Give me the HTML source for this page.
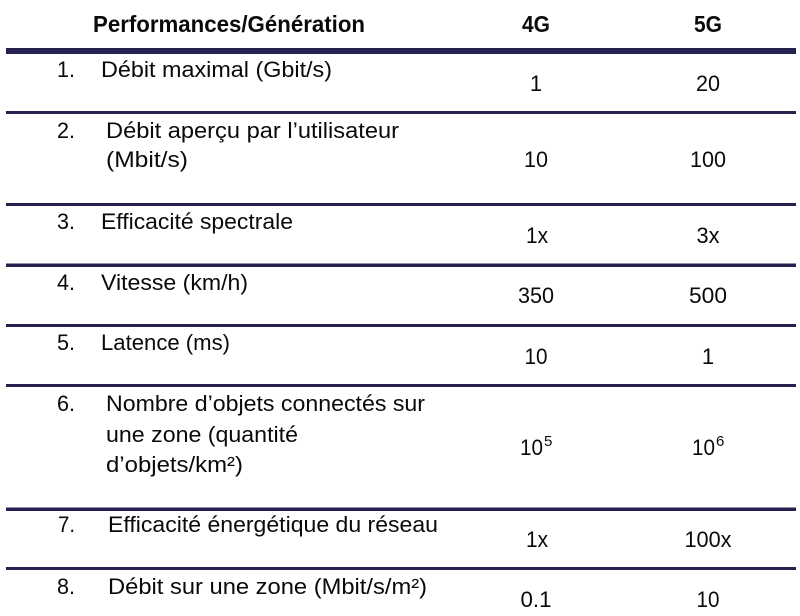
<!DOCTYPE html>
<html>
<head>
<meta charset="utf-8">
<style>
  html, body { margin: 0; padding: 0; background: #ffffff; }
  body { width: 800px; height: 616px; overflow: hidden; }
  svg { display: block; }
  text { font-family: "Liberation Sans", Arial, sans-serif; fill: #0a0a0a; }
  .h { font-weight: bold; font-size: 23px; }
  .t { font-size: 22px; }
  .s { font-size: 15px; }
</style>
</head>
<body>
<svg width="800" height="616" viewBox="0 0 800 616" xmlns="http://www.w3.org/2000/svg">
  <!-- rules -->
  <g fill="#25224f">
    <rect x="6" y="48" width="790" height="6"/>
    <rect x="6" y="111" width="790" height="3"/>
    <rect x="6" y="203" width="790" height="3"/>
    <rect x="6" y="263.5" width="790" height="3.5"/>
    <rect x="6" y="324" width="790" height="3"/>
    <rect x="6" y="384" width="790" height="3"/>
    <rect x="6" y="507.5" width="790" height="3.5"/>
    <rect x="6" y="567" width="790" height="3"/>
  </g>

  <!-- header -->
  <text class="h" x="93" y="32" textLength="272" lengthAdjust="spacingAndGlyphs">Performances/Génération</text>
  <text class="h" x="536" y="32" text-anchor="middle" textLength="28" lengthAdjust="spacingAndGlyphs">4G</text>
  <text class="h" x="708" y="32" text-anchor="middle" textLength="28" lengthAdjust="spacingAndGlyphs">5G</text>

  <!-- row 1 -->
  <text class="t" x="57" y="77" textLength="18" lengthAdjust="spacingAndGlyphs">1.</text>
  <text class="t" x="101" y="77" textLength="231" lengthAdjust="spacingAndGlyphs">Débit maximal (Gbit/s)</text>
  <text class="t" x="536" y="91" text-anchor="middle">1</text>
  <text class="t" x="708" y="91" text-anchor="middle" textLength="24" lengthAdjust="spacingAndGlyphs">20</text>

  <!-- row 2 -->
  <text class="t" x="57" y="138" textLength="18" lengthAdjust="spacingAndGlyphs">2.</text>
  <text class="t" x="106" y="138" textLength="293" lengthAdjust="spacingAndGlyphs">Débit aperçu par l’utilisateur</text>
  <text class="t" x="106" y="167" textLength="82" lengthAdjust="spacingAndGlyphs">(Mbit/s)</text>
  <text class="t" x="536" y="167" text-anchor="middle" textLength="24" lengthAdjust="spacingAndGlyphs">10</text>
  <text class="t" x="708" y="167" text-anchor="middle" textLength="36" lengthAdjust="spacingAndGlyphs">100</text>

  <!-- row 3 -->
  <text class="t" x="57" y="229" textLength="18" lengthAdjust="spacingAndGlyphs">3.</text>
  <text class="t" x="101" y="229" textLength="192" lengthAdjust="spacingAndGlyphs">Efficacité spectrale</text>
  <text class="t" x="537" y="243" text-anchor="middle" textLength="22" lengthAdjust="spacingAndGlyphs">1x</text>
  <text class="t" x="708" y="243" text-anchor="middle" textLength="23" lengthAdjust="spacingAndGlyphs">3x</text>

  <!-- row 4 -->
  <text class="t" x="57" y="290" textLength="18" lengthAdjust="spacingAndGlyphs">4.</text>
  <text class="t" x="101" y="290" textLength="147" lengthAdjust="spacingAndGlyphs">Vitesse (km/h)</text>
  <text class="t" x="536" y="303" text-anchor="middle" textLength="36" lengthAdjust="spacingAndGlyphs">350</text>
  <text class="t" x="708" y="303" text-anchor="middle" textLength="38" lengthAdjust="spacingAndGlyphs">500</text>

  <!-- row 5 -->
  <text class="t" x="57" y="350" textLength="18" lengthAdjust="spacingAndGlyphs">5.</text>
  <text class="t" x="101" y="350" textLength="129" lengthAdjust="spacingAndGlyphs">Latence (ms)</text>
  <text class="t" x="536" y="364" text-anchor="middle" textLength="23" lengthAdjust="spacingAndGlyphs">10</text>
  <text class="t" x="708" y="364" text-anchor="middle">1</text>

  <!-- row 6 -->
  <text class="t" x="57" y="411" textLength="18" lengthAdjust="spacingAndGlyphs">6.</text>
  <text class="t" x="106" y="411" textLength="319" lengthAdjust="spacingAndGlyphs">Nombre d’objets connectés sur</text>
  <text class="t" x="106" y="442" textLength="192" lengthAdjust="spacingAndGlyphs">une zone (quantité</text>
  <text class="t" x="106" y="472" textLength="137" lengthAdjust="spacingAndGlyphs">d’objets/km²)</text>
  <text class="t" x="520" y="455" textLength="23" lengthAdjust="spacingAndGlyphs">10</text>
  <text class="s" x="544" y="446">5</text>
  <text class="t" x="692" y="455" textLength="23" lengthAdjust="spacingAndGlyphs">10</text>
  <text class="s" x="716" y="446">6</text>

  <!-- row 7 -->
  <text class="t" x="58" y="532" textLength="17" lengthAdjust="spacingAndGlyphs">7.</text>
  <text class="t" x="108" y="532" textLength="330" lengthAdjust="spacingAndGlyphs">Efficacité énergétique du réseau</text>
  <text class="t" x="537" y="547" text-anchor="middle" textLength="22" lengthAdjust="spacingAndGlyphs">1x</text>
  <text class="t" x="708" y="547" text-anchor="middle" textLength="47" lengthAdjust="spacingAndGlyphs">100x</text>

  <!-- row 8 -->
  <text class="t" x="57" y="594" textLength="18" lengthAdjust="spacingAndGlyphs">8.</text>
  <text class="t" x="108" y="594" textLength="319" lengthAdjust="spacingAndGlyphs">Débit sur une zone (Mbit/s/m²)</text>
  <text class="t" x="536" y="607" text-anchor="middle" textLength="31" lengthAdjust="spacingAndGlyphs">0.1</text>
  <text class="t" x="708" y="607" text-anchor="middle" textLength="23" lengthAdjust="spacingAndGlyphs">10</text>
</svg>
</body>
</html>
